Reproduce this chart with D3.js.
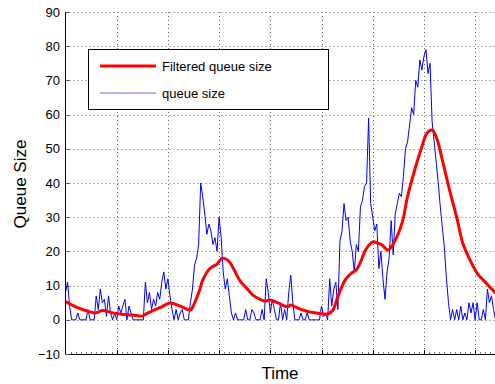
<!DOCTYPE html>
<html><head><meta charset="utf-8">
<script src="https://cdn.jsdelivr.net/npm/d3@7/dist/d3.min.js"></script>
<style>html,body{margin:0;padding:0;background:#fff;}svg{display:block;font-family:"Liberation Sans",Arial,Helvetica,sans-serif;}</style>
</head><body><svg id="c" width="495" height="384"></svg>
<script>
// Raw queue size, sampled every 2 time units (t = 0, 2, ..., 420)
const timeStep = 2;
const queueSize = [
 8,11,4,0,0,0,2,0,0,0,0,3,0,0,0,7,3,9,5,6,1,
 7,2,0,2,0,4,2,4,6,0,4,2,0,0,0,0,0,0,11,5,
 8,3,6,4,8,6,11,14,9,12,7,3,0,3,0,2,3,0,0,0,
 5,9,16,18,22,40,36,31,25,28,26,22,24,20,30,24,14,9,12,7,
 2,0,2,0,0,0,0,3,0,0,3,2,0,0,0,3,0,12,8,2,
 6,3,0,0,5,0,3,0,8,13,5,0,0,0,2,0,0,2,0,0,
 0,0,0,0,4,1,2,0,12,4,9,11,3,23,26,34,29,30,23,20,
 14,22,20,33,35,39,40,59,34,30,26,28,15,20,12,6,14,18,29,19,
 31,34,37,36,42,50,52,57,62,60,70,68,76,73,77,79,72,75,58,52,
 46,40,33,27,21,12,5,0,3,0,3,0,4,0,2,0,5,2,5,0,
 5,0,0,3,0,9,5,7,3,0,0
];
// Filtered queue size (time, value)
const filteredTime = [0,10,23,29,36,45,55,65,75,78,87,94,102,112,122,126,131,134,141,148,153,159,164,170,177,183,190,195,200,207,217,220,227,237,247,256,261,266,273,279,284,289,293,300,305,309,315,322,329,334,341,348,353,358,363,368,375,382,388,395,402,408,414,420];
const filteredValue = [5.3,3.8,2.4,2.0,2.7,2.1,1.6,1.4,1.1,1.6,2.9,3.8,4.9,4.0,2.9,4.9,8.7,11.6,15,16.3,18,17.3,15,11.6,9.2,7.2,6,5.5,5.8,5,3.8,4.3,3.4,2.4,1.9,1.7,2.8,6.8,11.6,13.6,14.6,17.5,20.4,22.8,22.4,21.9,20.4,23.3,28.7,36,43.8,50.6,54.6,55.5,52.6,46.7,38,30,22.4,17.5,13.6,11.6,9.7,7.8];
const yTicks = [-10,0,10,20,30,40,50,60,70,80,90];
const xMajorTicks = [50,100,150,200,250,300,350,400];
const legendLabels = ["Filtered queue size","queue size"];
const axisLabels = {x:"Time", y:"Queue Size"};

const svg = d3.select("#c");
const x = d3.scaleLinear().domain([0,420]).range([65.5,495.6]);
const y = d3.scaleLinear().domain([-10,90]).range([354,12]);
const X0 = x(0), Y0 = y(-10), Ytop = y(90);

// grid
const grid = svg.append("g").attr("stroke","#666").attr("stroke-width",1).attr("stroke-dasharray","1,3");
grid.selectAll("line.h").data(yTicks.filter(d=>d>-10)).join("line")
  .attr("x1",X0).attr("x2",495).attr("y1",d=>Math.round(y(d))+0.5).attr("y2",d=>Math.round(y(d))+0.5);
grid.selectAll("line.v").data(xMajorTicks).join("line")
  .attr("x1",d=>Math.round(x(d))+0.5).attr("x2",d=>Math.round(x(d))+0.5).attr("y1",Ytop).attr("y2",Y0);

// axes
const ax = svg.append("g");
ax.append("line").attr("x1",X0).attr("x2",X0).attr("y1",Ytop).attr("y2",Y0+0.5).attr("stroke","#000");
ax.append("line").attr("x1",X0).attr("x2",495).attr("y1",Y0+0.5).attr("y2",Y0+0.5).attr("stroke","#000");
ax.selectAll("line.yt").data(yTicks).join("line")
  .attr("x1",X0).attr("x2",X0+4).attr("y1",d=>Math.round(y(d))+0.5).attr("y2",d=>Math.round(y(d))+0.5).attr("stroke","#555");
ax.selectAll("text.yl").data(yTicks).join("text")
  .attr("x",60).attr("y",d=>y(d)).attr("dy","0.35em").attr("text-anchor","end")
  .attr("font-size",13).attr("fill","#000").text(d=>d<0?"\u2212"+Math.abs(d):d);
const minor = d3.range(5,420,5);
ax.selectAll("line.xm").data(minor).join("line")
  .attr("x1",d=>Math.round(x(d))+0.5).attr("x2",d=>Math.round(x(d))+0.5)
  .attr("y1",Y0).attr("y2",d=>xMajorTicks.includes(d)?Y0-4:Y0-2)
  .attr("stroke",d=>xMajorTicks.includes(d)?"#000":"#777");

// clip
svg.append("clipPath").attr("id","clip").append("rect").attr("x",X0).attr("y",Ytop-5).attr("width",495-X0).attr("height",Y0-Ytop+5);

// blue raw line
const blueData = queueSize.map((v,i)=>[i*timeStep,v]);
svg.append("path").attr("clip-path","url(#clip)").datum(blueData)
  .attr("fill","none").attr("stroke","#0000ff").attr("stroke-width",1)
  .attr("d",d3.line().x(d=>x(d[0])).y(d=>y(d[1])));

// red filtered line
const redData = filteredTime.map((t,i)=>[t,filteredValue[i]]);
svg.append("path").attr("clip-path","url(#clip)").datum(redData)
  .attr("fill","none").attr("stroke","#ff0000").attr("stroke-width",3).attr("stroke-linejoin","round")
  .attr("d",d3.line().curve(d3.curveCatmullRom).x(d=>x(d[0])).y(d=>y(d[1])));

// legend
const lg = svg.append("g");
lg.append("rect").attr("x",88.5).attr("y",49.5).attr("width",240).attr("height",60).attr("fill","#fff").attr("stroke","#000").attr("stroke-width",1);
const lgColors = ["#ff0000","#6666ff"], lgW=[3,1.2], lgY=[66,93];
legendLabels.forEach((lab,i)=>{
  lg.append("line").attr("x1",100).attr("x2",156).attr("y1",lgY[i]).attr("y2",lgY[i]).attr("stroke",lgColors[i]).attr("stroke-width",lgW[i]);
  lg.append("text").attr("x",162).attr("y",lgY[i]).attr("dy","0.35em").attr("font-size",13).attr("fill","#000").text(lab);
});

// axis labels
svg.append("text").attr("x",280).attr("y",379).attr("text-anchor","middle").attr("font-size",17).text(axisLabels.x);
svg.append("text").attr("transform","translate(26,184) rotate(-90)").attr("text-anchor","middle").attr("font-size",17).text(axisLabels.y);
</script></body></html>
